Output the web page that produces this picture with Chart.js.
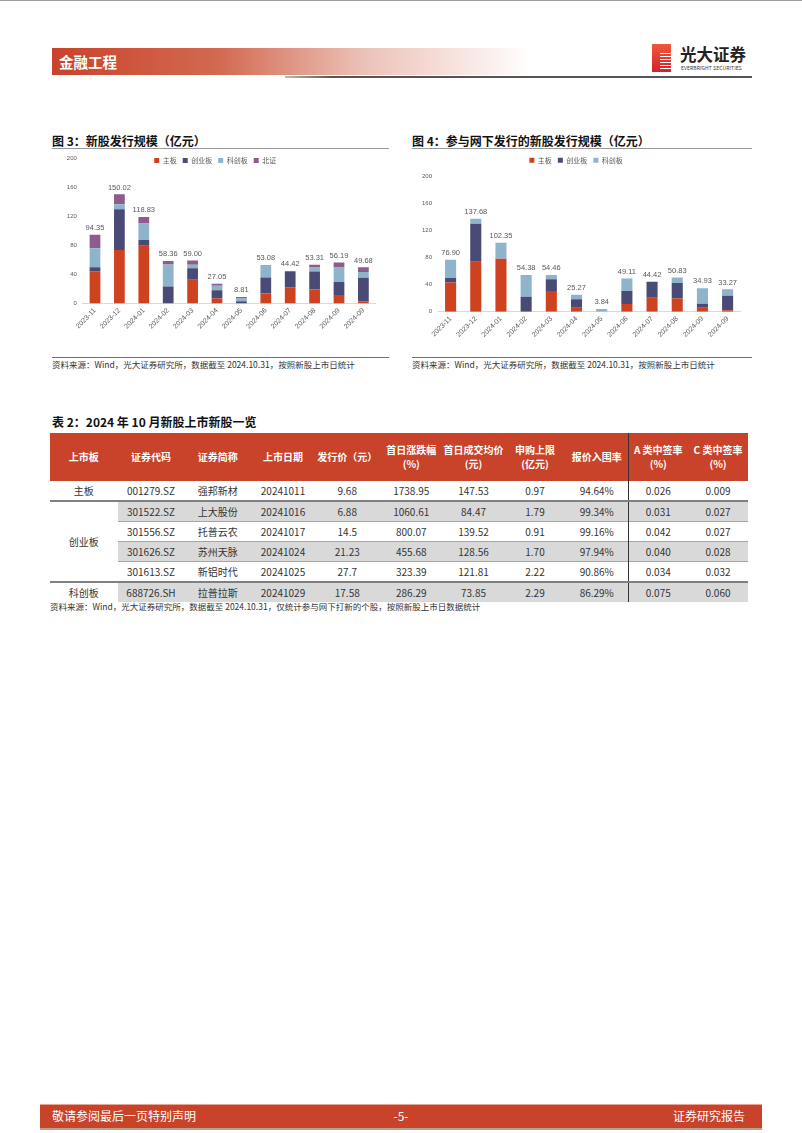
<!DOCTYPE html>
<html lang="zh-CN">
<head>
<meta charset="utf-8">
<title>新股发行规模</title>
<script src="https://cdn.jsdelivr.net/npm/chart.js"></script>
<style>
  body { margin: 0; background: #fff; }
  .page { position: relative; width: 802px; height: 1133px; overflow: hidden; font-family: "Noto Sans CJK SC", sans-serif; color: #222; }
  .abs { position: absolute; }
  .topline { left: 0; top: 0; width: 802px; height: 1px; background: #a0a0a0; }
  .band { left: 52px; top: 48px; width: 480px; height: 27px; background: linear-gradient(to right, #c8432a 0%, #d36a52 35%, #ecc2b7 65%, #ffffff 100%); }
  .bandtext { left: 59px; top: 48px; line-height: 27px; font-size: 14.5px; font-weight: bold; color: #fff; }
  .hline { left: 285px; top: 76px; width: 467px; height: 2px; background: linear-gradient(to right, #bbb, #555 10%, #555); }
  .logo { left: 652px; top: 44px; width: 19px; height: 28px; background: linear-gradient(#f2583a, #d61f2c); }
  .logo i { position: absolute; left: 8px; top: 9px; width: 11px; height: 16px; background: repeating-linear-gradient(#fff 0 1.4px, transparent 1.4px 3px); }
  .brand { left: 680px; top: 42px; font-size: 16.5px; font-weight: bold; color: #222; }
  .brand-en { left: 681px; top: 64px; font-size: 5px; color: #333; letter-spacing: 0.1px; }
  .title { font-size: 12px; font-weight: bold; line-height: 16px; color: #111; }
  .rule { height: 1px; background: #9a9a9a; }
  .srcrule { height: 1px; background: #6f6f6f; }
  .src { font-size: 8.5px; line-height: 12px; color: #333; }
  canvas { position: absolute; }
  #tbl { position: absolute; left: 50px; top: 433px; width: 698px; border-collapse: collapse; table-layout: fixed; font-size: 10px; }
  #tbl th { background: #c8432a; color: #fff; font-weight: bold; height: 48px; padding: 0; line-height: 14px; text-align: center; }
  #tbl td { height: 19px; padding: 0; text-align: center; color: #333; line-height: 19px; }
  #tbl td.shade { background: #d9d9d9; }
  #tbl td.thin { border-top: 1px solid #a6a6a6; }
  #tbl tr.group td { border-top: 2px solid #808080; }
  #tbl .divider { border-left: 1.5px solid #333; }
  .footer { left: 40px; top: 1104px; width: 722px; height: 23px; background: #c8432a; border-top: 1px solid #e6a494; border-bottom: 2px solid #b8a48c; }
  .foottext { top: 1104px; line-height: 24px; font-size: 12px; color: #fff; }
</style>
</head>
<body>
<div class="page">
  <div class="abs topline"></div>
  <div class="abs band"></div>
  <div class="abs bandtext">金融工程</div>
  <div class="abs hline"></div>
  <div class="abs logo"><i></i></div>
  <div class="abs brand">光大证券</div>
  <div class="abs brand-en">EVERBRIGHT SECURITIES</div>

  <div class="abs title" style="left:52px; top:133px;">图 3：新股发行规模（亿元）</div>
  <div class="abs rule" style="left:52px; top:148px; width:337px;"></div>
  <canvas id="chart-1" style="left:52px; top:135px;" width="337" height="220"></canvas>
  <div class="abs srcrule" style="left:52px; top:357px; width:337px;"></div>
  <div class="abs src" style="left:52px; top:358px;">资料来源：Wind，光大证券研究所，数据截至 2024.10.31，按照新股上市日统计</div>

  <div class="abs title" style="left:412px; top:133px;">图 4：参与网下发行的新股发行规模（亿元）</div>
  <div class="abs rule" style="left:412px; top:148px; width:340px;"></div>
  <canvas id="chart-2" style="left:412px; top:150px;" width="340" height="205"></canvas>
  <div class="abs srcrule" style="left:412px; top:357px; width:340px;"></div>
  <div class="abs src" style="left:412px; top:358px;">资料来源：Wind，光大证券研究所，数据截至 2024.10.31，按照新股上市日统计</div>

  <div class="abs title" style="left:52px; top:414px;">表 2：2024 年 10 月新股上市新股一览</div>
  <table id="tbl"></table>
  <div class="abs src" style="left:50px; top:600px;">资料来源：Wind，光大证券研究所，数据截至 2024.10.31，仅统计参与网下打新的个股，按照新股上市日数据统计</div>

  <div class="abs footer"></div>
  <div class="abs foottext" style="left:52px;">敬请参阅最后一页特别声明</div>
  <div class="abs foottext" style="left:0; width:802px; text-align:center;">-5-</div>
  <div class="abs foottext" style="right:57px;">证券研究报告</div>
</div>

<script>
// Month labels (the picture shows 2024-09 on the last two bars)
const months = ['2023-11', '2023-12', '2024-01', '2024-02', '2024-03', '2024-04', '2024-05', '2024-06', '2024-07', '2024-08', '2024-09', '2024-09'];

// Figure 3: new share issuance by board (100m yuan)
const issueMain  = [44.5, 73.6, 79.5, 0, 32.7, 6.8, 0, 13.6, 22.3, 19.1, 11.8, 2.7];
const issueGem   = [5.5, 55.9, 7.8, 23.2, 15.9, 11.4, 3.0, 22.3, 22.12, 25.0, 17.7, 32.8];
const issueStar  = [25.9, 6.9, 22.7, 30.4, 4.6, 6.3, 3.84, 17.18, 0, 5.4, 20.0, 7.7];
const issueBse   = [18.45, 13.62, 8.83, 4.76, 5.8, 2.55, 1.97, 0, 0, 3.81, 6.69, 6.48];
const issueTotal = [94.35, 150.02, 118.83, 58.36, 59.00, 27.05, 8.81, 53.08, 44.42, 53.31, 56.19, 49.68];

// Figure 4: issuance of shares with offline subscription
const offMain  = [43.2, 74.0, 78.4, 0, 30.8, 6.0, 0, 11.4, 20.8, 19.4, 6.0, 2.0];
const offGem   = [6.9, 56.5, 0, 22.3, 17.3, 12.4, 0, 19.4, 23.62, 23.3, 5.9, 21.8];
const offStar  = [26.8, 7.18, 23.95, 32.08, 6.36, 6.87, 3.84, 18.31, 0, 8.13, 23.03, 9.47];
const offTotal = [76.90, 137.68, 102.35, 54.38, 54.46, 25.27, 3.84, 49.11, 44.42, 50.83, 34.93, 33.27];

const yTicks = [0, 40, 80, 120, 160, 200];

// Table 2 columns
const tableHead = ['上市板', '证券代码', '证券简称', '上市日期', '发行价（元）', '首日涨跌幅<br>(%)', '首日成交均价<br>(元)', '申购上限<br>(亿元)', '报价入围率', 'A 类中签率<br>(%)', 'C 类中签率<br>(%)'];
const colWidths = [67.5, 67, 66.5, 64, 64.5, 63.5, 61, 62, 62, 60, 60];
const boards = ['主板', '创业板', '创业板', '创业板', '创业板', '科创板'];
const codes = ['001279.SZ', '301522.SZ', '301556.SZ', '301626.SZ', '301613.SZ', '688726.SH'];
const names = ['强邦新材', '上大股份', '托普云农', '苏州天脉', '新铝时代', '拉普拉斯'];
const listDates = ['20241011', '20241016', '20241017', '20241024', '20241025', '20241029'];
const issuePrices = ['9.68', '6.88', '14.5', '21.23', '27.7', '17.58'];
const firstDayGain = ['1738.95', '1060.61', '800.07', '455.68', '323.39', '286.29'];
const firstDayAvg = ['147.53', '84.47', '139.52', '128.56', '121.81', '73.85'];
const subLimit = ['0.97', '1.79', '0.91', '1.70', '2.22', '2.29'];
const quoteRate = ['94.64%', '99.34%', '99.16%', '97.94%', '90.86%', '86.29%'];
const rateA = ['0.026', '0.031', '0.042', '0.040', '0.034', '0.075'];
const rateC = ['0.009', '0.027', '0.027', '0.028', '0.032', '0.060'];

const colors = { main: '#cf421f', gem: '#4a4a77', star: '#8db4cb', bse: '#8e5b8d' };
const tickColor = '#595959';

// Writes the total above each stacked bar
const totalLabels = {
    id: 'totalLabels',
    afterDatasetsDraw(chart, args, opts) {
        const ctx = chart.ctx;
        ctx.save();
        ctx.font = '7.5px "Liberation Sans", Arial, sans-serif';
        ctx.fillStyle = tickColor;
        ctx.textAlign = 'center';
        ctx.textBaseline = 'bottom';
        opts.totals.forEach((total, i) => {
            let top = chart.scales.y.getPixelForValue(0);
            let x = chart.scales.x.getPixelForValue(i);
            chart.data.datasets.forEach((ds, d) => {
                const bar = chart.getDatasetMeta(d).data[i];
                if (bar && ds.data[i] > 0) top = Math.min(top, bar.y);
            });
            ctx.fillText(total.toFixed(2), x, top - 3);
        });
        ctx.restore();
    }
};

// Nudges the legend box after layout
const legendShift = {
    id: 'legendShift',
    afterLayout(chart, args, opts) {
        const lg = chart.legend;
        lg.top += opts.dy; lg.bottom += opts.dy;
        lg.left += opts.dx; lg.right += opts.dx;
    }
};

function makeDataset(label, data, color) {
    return { label: label, data: data, backgroundColor: color, categoryPercentage: 1, barPercentage: 0.44 };
}

function createChart(canvasElement, datasets, totals, setup) {
    return new Chart(canvasElement, {
        type: 'bar',
        data: { labels: months, datasets: datasets },
        options: {
            responsive: false,
            animation: false,
            layout: { padding: setup.padding },
            plugins: {
                legend: {
                    position: 'top',
                    labels: {
                        boxWidth: 5, boxHeight: 5, padding: 6, color: tickColor,
                        font: { size: 7, family: '"Noto Sans CJK SC", sans-serif' }
                    }
                },
                tooltip: { enabled: false },
                totalLabels: { totals: totals },
                legendShift: setup.shift
            },
            scales: {
                x: {
                    stacked: true,
                    grid: { display: false, drawTicks: false },
                    border: { display: true, color: '#d9d9d9' },
                    ticks: {
                        minRotation: 45, maxRotation: 45, padding: 3, color: tickColor,
                        font: { size: 7, family: '"Liberation Sans", Arial, sans-serif' }
                    },
                    afterFit: scale => { scale.height = setup.xHeight; }
                },
                y: {
                    stacked: true, min: 0, max: 200,
                    grid: { display: false, drawTicks: false },
                    border: { display: false },
                    afterBuildTicks: scale => { scale.ticks = yTicks.map(v => ({ value: v })); },
                    ticks: {
                        padding: 6, color: tickColor,
                        font: { size: 6, family: '"Liberation Sans", Arial, sans-serif' }
                    },
                    afterFit: scale => { scale.width = setup.yWidth; }
                }
            }
        },
        plugins: [totalLabels, legendShift]
    });
}

// Figure 3: the legend sits inside the plot, level with the 200 tick
createChart(document.querySelector('#chart-1'), [
    makeDataset('主板', issueMain, colors.main),
    makeDataset('创业板', issueGem, colors.gem),
    makeDataset('科创板', issueStar, colors.star),
    makeDataset('北证', issueBse, colors.bse)
], issueTotal, {
    padding: { top: 0, left: 2.8, right: 13.4, bottom: 0 },
    shift: { dx: 0, dy: 16 },
    xHeight: 51.5, yWidth: 28
});

createChart(document.querySelector('#chart-2'), [
    makeDataset('主板', offMain, colors.main),
    makeDataset('创业板', offGem, colors.gem),
    makeDataset('科创板', offStar, colors.star)
], offTotal, {
    padding: { top: 3.8, left: 0, right: 11.8, bottom: 0 },
    shift: { dx: 0, dy: -3 },
    xHeight: 43.3, yWidth: 26
});

// Table 2
function buildTable() {
    const table = document.querySelector('#tbl');
    let html = '<colgroup>' + colWidths.map(w => `<col style="width:${w}px">`).join('') + '</colgroup>';
    html += '<tr>' + tableHead.map((h, c) => `<th${c === 9 ? ' class="divider"' : ''}>${h}</th>`).join('') + '</tr>';
    for (let r = 0; r < codes.length; r++) {
        const newGroup = r === 0 || boards[r] !== boards[r - 1];
        const shade = r % 2 === 1 ? 'shade' : '';
        const thin = !newGroup ? 'thin' : '';
        html += `<tr${newGroup && r > 0 ? ' class="group"' : ''}>`;
        if (newGroup) {
            const span = boards.filter(b => b === boards[r]).length;
            html += `<td rowspan="${span}">${boards[r]}</td>`;
        }
        const cells = [codes[r], names[r], listDates[r], issuePrices[r], firstDayGain[r], firstDayAvg[r], subLimit[r], quoteRate[r], rateA[r], rateC[r]];
        cells.forEach((v, c) => {
            const cls = [shade, thin, c === 8 ? 'divider' : ''].filter(Boolean).join(' ');
            html += `<td class="${cls}">${v}</td>`;
        });
        html += '</tr>';
    }
    table.innerHTML = html;
}

buildTable();
</script>
</body>
</html>
